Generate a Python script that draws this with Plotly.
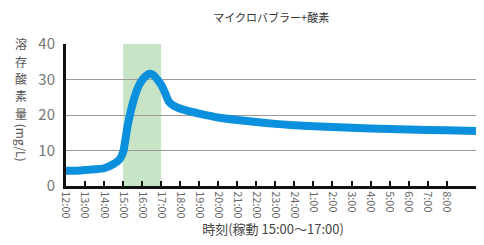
import plotly.graph_objects as go

# Data: hours after 12:00, dissolved oxygen (mg/L)
hours = [0, 0.5, 1, 1.5, 2, 2.5, 2.8, 3.0, 3.2, 3.4, 3.6, 3.8, 4.0, 4.2, 4.4, 4.6, 4.8,
         5.0, 5.2, 5.4, 5.6, 5.8, 6.0, 6.5, 7, 8, 9, 10, 11, 12, 14, 16, 18, 20, 21.8]
do_values = [4.3, 4.3, 4.5, 4.7, 5.0, 6.2, 7.4, 9.5, 15.8, 21.0, 25.0, 28.0, 29.8, 31.0, 31.6,
             31.2, 30.0, 28.5, 26.3, 23.8, 22.8, 22.2, 21.8, 21.0, 20.4, 19.3, 18.6, 18.0,
             17.5, 17.1, 16.6, 16.2, 15.9, 15.7, 15.5]
tick_pos = list(range(0, 21))
tick_labels = ["12:00", "13:00", "14:00", "15:00", "16:00", "17:00", "18:00", "19:00",
               "20:00", "21:00", "22:00", "23:00", "24:00", "1:00", "2:00", "3:00",
               "4:00", "5:00", "6:00", "7:00", "8:00"]
band = [3, 5]  # operating 15:00-17:00
y_ticks = [0, 10, 20, 30, 40]
y_title_chars = ["溶", "存", "酸", "素", "量"]
y_title_unit = "(mg/L)"

FONT = "Noto Sans CJK JP"

fig = go.Figure()
fig.add_shape(type="rect", xref="x", yref="y", x0=band[0], x1=band[1], y0=0, y1=40,
              fillcolor="#c7e4c6", line_width=0, layer="below")
fig.add_trace(go.Scatter(x=hours, y=do_values, mode="lines",
                         line=dict(color="#0a90dc", width=8, shape="spline", smoothing=0.6),
                         hoverinfo="skip"))

# page body has an 8px margin, so the figure is sized to fit the 484x245 window
fig.update_layout(
    width=476, height=237,
    margin=dict(l=58, r=4, t=36, b=59),
    paper_bgcolor="white", plot_bgcolor="white",
    showlegend=False,
    font=dict(family=FONT, color="#555"),
    title=dict(text="マイクロバブラー+酸素", x=0.553, xanchor="center", y=0.958, yanchor="middle",
               font=dict(size=11, color="#333", family=FONT)),
)
fig.update_xaxes(range=[0, 21.75], tickmode="array", tickvals=tick_pos, ticktext=tick_labels,
                 tickangle=90, tickfont=dict(size=11, color="#666", family=FONT),
                 ticks="inside", ticklen=5, tickwidth=1.5, tickcolor="#111",
                 showgrid=False, zeroline=False, automargin=False,
                 showline=True, linecolor="#111", linewidth=3,
                 title=dict(text="時刻(稼動 15:00〜17:00)", standoff=2,
                            font=dict(size=13, color="#444", family=FONT)))
fig.update_yaxes(range=[0, 40], tickvals=y_ticks, tickfont=dict(size=15, color="#777", family=FONT),
                 showgrid=True, gridcolor="#999", gridwidth=1.2, zeroline=False, automargin=False,
                 showline=True, linecolor="#111", linewidth=3, ticks="", ticklabelstandoff=5)

# vertical y-axis title, one character per annotation
char_y = [1.007, 0.880, 0.758, 0.634, 0.512]
for ch, yy in zip(y_title_chars, char_y):
    fig.add_annotation(text=ch, xref="paper", yref="paper", x=-0.109, y=yy,
                       xanchor="center", yanchor="middle", showarrow=False, borderpad=0,
                       font=dict(size=12, color="#555", family=FONT))
fig.add_annotation(text=y_title_unit, xref="paper", yref="paper", textangle=90,
                   x=-0.109, y=0.305, xanchor="center", yanchor="middle", showarrow=False,
                   borderpad=0, font=dict(size=12, color="#555", family=FONT))

fig.write_html("out.html")
